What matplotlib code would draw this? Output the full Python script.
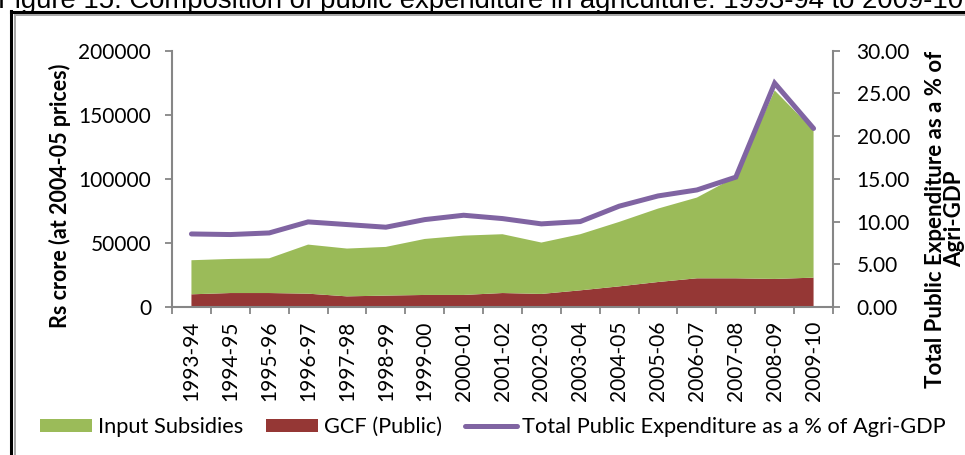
import numpy as np
import matplotlib
matplotlib.use("Agg")
import matplotlib.pyplot as plt
from matplotlib.patches import Patch
from matplotlib.lines import Line2D

plt.rcParams['font.family'] = ['Lato', 'DejaVu Sans']

years = ['1993-94', '1994-95', '1995-96', '1996-97', '1997-98', '1998-99',
         '1999-00', '2000-01', '2001-02', '2002-03', '2003-04', '2004-05',
         '2005-06', '2006-07', '2007-08', '2008-09', '2009-10']
gcf_public = [9900, 10900, 10900, 10400, 8300, 8900, 9400, 9400, 10900,
              10200, 13000, 16100, 19500, 22400, 22400, 21900, 22900]
input_subsidies = [26600, 26600, 27100, 38300, 37300, 38000, 43700, 46300,
                   45900, 40100, 43800, 50300, 57300, 63000, 79200, 147100, 115100]
pct_agri_gdp = [8.55, 8.48, 8.67, 9.96, 9.65, 9.34, 10.23, 10.74, 10.35,
                9.73, 10.0, 11.8, 13.0, 13.7, 15.2, 26.2, 20.9]

GREEN = '#9BBB59'
RED = '#953735'
PURPLE = '#8064A2'
GRAY = '#868686'

W, H = 965, 455
fig = plt.figure(figsize=(W / 100, H / 100), dpi=100)

# page title, mostly cut off at the top
fig.text(-2 / W, 1 - 8 / H, 'Figure 15: Composition of public expenditure in agriculture: 1993-94 to 2009-10',
         family='Liberation Sans', fontsize=19.8, va='baseline', ha='left')

# double frame round the chart
fig.add_artist(Line2D([11 / W, 11 / W], [0, 1 - 11 / H], color='black', lw=2.2))
fig.add_artist(Line2D([11 / W, 1], [1 - 12 / H, 1 - 12 / H], color='black', lw=2.2))
fig.add_artist(Line2D([14.5 / W, 14.5 / W], [0, 1 - 14.5 / H], color='#A6A6A6', lw=1.4))
fig.add_artist(Line2D([14.5 / W, 1], [1 - 15 / H, 1 - 15 / H], color='#A6A6A6', lw=1.4))

ax = fig.add_axes([172 / W, 148 / H, 661 / W, 256.3 / H])
x = np.arange(len(years))
ax.stackplot(x, gcf_public, input_subsidies, colors=[RED, GREEN], lw=0)
ax.set_xlim(-0.5, len(years) - 0.5)
ax.set_ylim(0, 200000)
ax.set_yticks(np.arange(0, 200001, 50000))
ax.set_xticks(x)
ax.set_xticklabels(years, rotation=90)
ax.set_xticks(np.arange(-0.5, len(years), 1), minor=True)
ax.tick_params(axis='x', which='major', length=0, pad=10, labelsize=15)
ax.tick_params(axis='x', which='minor', length=5, color=GRAY, width=1.3, direction='out')
ax.tick_params(axis='y', length=5, color=GRAY, width=1.3, labelsize=15, pad=10)
for s in ['top', 'right']:
    ax.spines[s].set_visible(False)
for s in ['left', 'bottom']:
    ax.spines[s].set_color(GRAY)
    ax.spines[s].set_linewidth(1.5)

fig.text(60 / W, 1 - 196 / H, 'Rs crore (at 2004-05 prices)', rotation=90,
         fontweight='bold', fontsize=15.5, ha='center', va='center')

ax2 = ax.twinx()
ax2.plot(x, pct_agri_gdp, color=PURPLE, lw=3.6, solid_capstyle='round', solid_joinstyle='miter')
ax2.set_ylim(0, 30)
ax2.set_yticks(np.arange(0, 31, 5))
ax2.set_yticklabels([f'{v:.2f}' for v in np.arange(0, 31, 5)])
ax2.tick_params(axis='y', length=5, color=GRAY, width=1.3, labelsize=15, pad=12)
for s in ['top', 'left', 'bottom']:
    ax2.spines[s].set_visible(False)
ax2.spines['right'].set_color(GRAY)
ax2.spines['right'].set_linewidth(1.5)

fig.text(945 / W, 1 - 219 / H, 'Total Public Expenditure as a % of\nAgri-GDP', rotation=90,
         fontweight='bold', fontsize=16, ha='center', va='center', multialignment='center',
         linespacing=0.92)

handles = [Patch(facecolor=GREEN, edgecolor='none'),
           Patch(facecolor=RED, edgecolor='none'),
           Line2D([], [], color=PURPLE, lw=3.6, solid_capstyle='round')]
labels = ['Input Subsidies', 'GCF (Public)', 'Total Public Expenditure as a % of Agri-GDP']
fig.legend(handles, labels, loc='center', bbox_to_anchor=(493 / W, 1 - 427 / H), ncol=3,
           frameon=False, fontsize=15.7, handlelength=2.4, handleheight=0.55,
           handletextpad=0.25, columnspacing=1.05)

fig.savefig('out.png', dpi=100)
